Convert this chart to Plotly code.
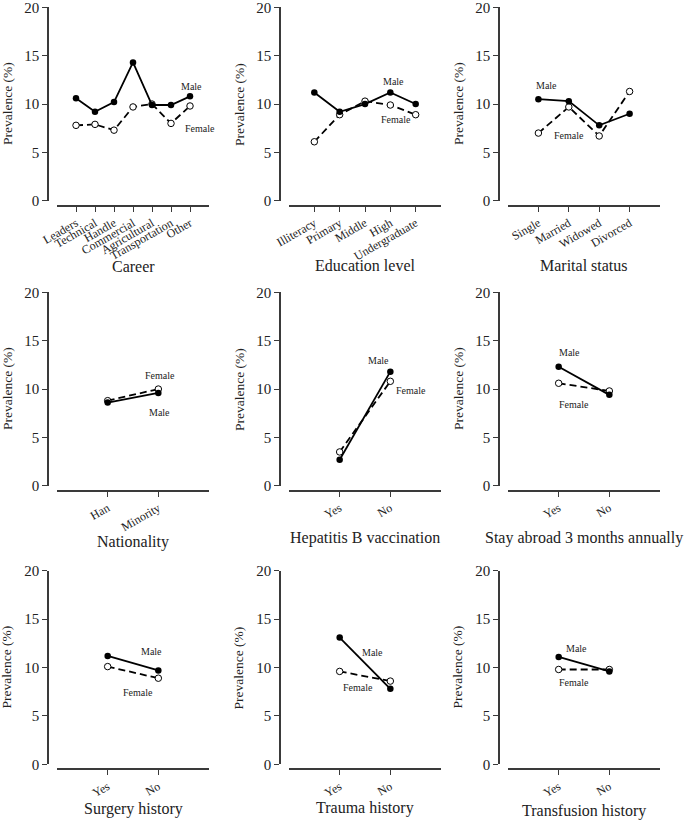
import plotly.graph_objects as go

W, H = 685, 821

# category labels and prevalence (%)
career_cats = ["Leaders", "Technical", "Handle", "Commercial", "Agricultural", "Transportation", "Other"]
career_male = [10.6, 9.2, 10.2, 14.3, 9.9, 9.9, 10.8]
career_female = [7.8, 7.9, 7.3, 9.7, 10.0, 8.0, 9.8]

education_cats = ["Illiteracy", "Primary", "Middle", "High", "Undergraduate"]
education_male = [11.2, 9.2, 10.0, 11.2, 10.0]
education_female = [6.1, 8.9, 10.3, 9.9, 8.9]

marital_cats = ["Single", "Married", "Widowed", "Divorced"]
marital_male = [10.5, 10.3, 7.8, 9.0]
marital_female = [7.0, 9.7, 6.7, 11.3]

nationality_cats = ["Han", "Minority"]
nationality_male = [8.6, 9.6]
nationality_female = [8.8, 10.0]

yes_no = ["Yes", "No"]
hepb_male = [2.7, 11.8]
hepb_female = [3.5, 10.8]
abroad_male = [12.3, 9.4]
abroad_female = [10.6, 9.8]
surgery_male = [11.2, 9.7]
surgery_female = [10.1, 8.9]
trauma_male = [13.1, 7.8]
trauma_female = [9.6, 8.6]
transfusion_male = [11.1, 9.6]
transfusion_female = [9.8, 9.8]

titles = ["Career", "Education level", "Marital status",
          "Nationality", "Hepatitis B vaccination", "Stay abroad 3 months annually",
          "Surgery history", "Trauma history", "Transfusion history"]

panels = [
    (career_cats, career_male, career_female),
    (education_cats, education_male, education_female),
    (marital_cats, marital_male, marital_female),
    (nationality_cats, nationality_male, nationality_female),
    (yes_no, hepb_male, hepb_female),
    (yes_no, abroad_male, abroad_female),
    (yes_no, surgery_male, surgery_female),
    (yes_no, trauma_male, trauma_female),
    (yes_no, transfusion_male, transfusion_female),
]

# label positions (category index, prevalence) for "Male" / "Female"
male_lab = [(6.1, 11.8), (3.13, 12.3), (0.28, 11.9), (1.03, 7.6), (0.76, 12.9),
            (0.22, 13.8), (0.87, 11.7), (0.64, 11.6), (0.35, 12.0)]
female_lab = [(6.53, 7.5), (3.24, 8.4), (1.0, 6.8), (1.03, 11.4), (1.41, 9.8),
              (0.31, 8.4), (0.59, 7.4), (0.36, 7.9), (0.31, 8.5)]

col_left = [48, 280, 499]       # y-axis line, px
row_zero = [200.8, 485.8, 764.3]  # y = 0, px
title_y = [[266, 265, 265], [542, 538, 538], [809, 808, 811]]
unit = 193.5 / 20

FONT = "Liberation Serif, Times New Roman, serif"
AX = "#3a3a3a"

fig = go.Figure()
annotations = []

for i, (cats, male, female) in enumerate(panels):
    k = i + 1
    r, c = divmod(i, 3)
    L = col_left[c]
    Y0 = row_zero[r]
    xs = "" if k == 1 else str(k)
    n = len(cats)

    fig.add_trace(go.Scatter(
        x=cats, y=female, mode="lines+markers", xaxis="x" + xs, yaxis="y" + xs,
        line=dict(color="black", width=1.8, dash="7px,4px"),
        marker=dict(symbol="circle", size=6.5, color="white", line=dict(color="black", width=1)),
        showlegend=False, cliponaxis=False))
    fig.add_trace(go.Scatter(
        x=cats, y=male, mode="lines+markers", xaxis="x" + xs, yaxis="y" + xs,
        line=dict(color="black", width=1.8),
        marker=dict(symbol="circle", size=6.5, color="black"),
        showlegend=False, cliponaxis=False))

    fig.layout["xaxis" + xs] = dict(
        domain=[(L + 9) / W, (L + 161) / W], range=[-1, n],
        anchor="free", position=1 - (Y0 + 5) / H, automargin=False,
        showline=True, linecolor=AX, linewidth=1.5,
        ticks="outside", ticklen=5, tickcolor=AX, tickwidth=1,
        tickangle=-30, tickfont=dict(family=FONT, size=12, color="#222"),
        ticklabeloverflow="allow",
        showgrid=False, zeroline=False, fixedrange=True)
    fig.layout["yaxis" + xs] = dict(
        domain=[1 - Y0 / H, 1 - (Y0 - 20 * unit) / H], range=[0, 20],
        anchor="free", position=L / W, automargin=False,
        showline=True, linecolor=AX, linewidth=1.5,
        ticks="outside", ticklen=5, tickcolor=AX, tickwidth=1,
        tickvals=[0, 5, 10, 15, 20], tickfont=dict(family=FONT, size=15, color="#222"),
        ticklabeloverflow="allow",
        showgrid=False, zeroline=False, fixedrange=True)

    annotations.append(dict(
        text="Prevalence (%)", textangle=-90, xref="paper", yref="paper",
        x=(L - 41) / W, y=1 - (Y0 - 10 * unit) / H, showarrow=False,
        xanchor="center", yanchor="middle",
        font=dict(family=FONT, size=13.5, color="#222")))
    annotations.append(dict(
        text=titles[i], xref="paper", yref="paper",
        x=(L + 85) / W, y=1 - title_y[r][c] / H, showarrow=False,
        xanchor="center", yanchor="middle",
        font=dict(family=FONT, size=16, color="#222")))
    for lab, (ax_, ay_) in (("Male", male_lab[i]), ("Female", female_lab[i])):
        annotations.append(dict(
            text=lab, xref="x" + xs, yref="y" + xs, x=ax_, y=ay_, showarrow=False,
            xanchor="center", yanchor="middle",
            font=dict(family=FONT, size=10, color="#222")))

fig.update_layout(
    template="none",
    width=W, height=H, margin=dict(l=0, r=0, t=0, b=0, autoexpand=False),
    paper_bgcolor="white", plot_bgcolor="white",
    annotations=annotations,
)

# drop the default body margin so the figure sits at the page corner
fig.write_html("out.html", config={"displayModeBar": False},
               post_script="document.body.style.margin='0px';")
